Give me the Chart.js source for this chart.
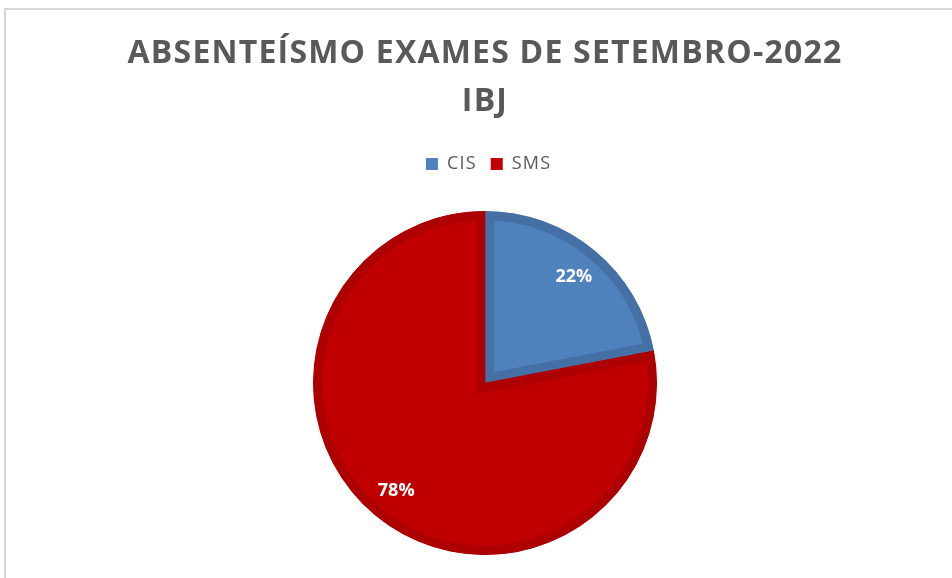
<!DOCTYPE html>
<html>
<head>
<meta charset="utf-8">
<script src="https://cdn.jsdelivr.net/npm/chart.js@4/dist/chart.umd.min.js"></script>
<style>
  body { margin: 0; background: #fff; width: 952px; height: 578px; overflow: hidden; position: relative; }
  #frame { position: absolute; left: 4px; top: 8px; width: 1000px; height: 620px; border: 2px solid #d6d6d6; box-sizing: border-box; }
  #chart-pie-absenteismo { position: absolute; left: 0; top: 0; }
</style>
</head>
<body>
<div id="frame"></div>
<canvas id="chart-pie-absenteismo" width="952" height="578"></canvas>
<script>
var categorias = ["CIS", "SMS"];
var percentuais = [22, 78];
var titulo = ["ABSENTEÍSMO EXAMES DE SETEMBRO-2022", "IBJ"];
var cores = ["#4f81bd", "#c00000"];
var coresBorda = ["#4570a6", "#ad0000"];

// data labels drawn inside the slices
var rotulosPlugin = {
  id: "rotulos",
  afterDatasetsDraw: function (chart) {
    var ctx = chart.ctx;
    var meta = chart.getDatasetMeta(0);
    ctx.save();
    ctx.font = "bold 18px 'Open Sans'";
    ctx.fillStyle = "#ffffff";
    ctx.textAlign = "center";
    ctx.textBaseline = "middle";
    meta.data.forEach(function (arc, i) {
      var mid = (arc.startAngle + arc.endAngle) / 2;
      var r = arc.outerRadius * 0.81;
      ctx.fillText(percentuais[i] + "%", arc.x + Math.cos(mid) * r, arc.y + Math.sin(mid) * r + 1);
    });
    ctx.restore();
  },
};

// extra room under the legend + wider text spacing for title/legend
var espacoLegenda = {
  id: "espacoLegenda",
  beforeInit: function (chart) {
    var fit = chart.legend.fit;
    chart.legend.fit = function () {
      fit.bind(chart.legend)();
      this.height += 28;
    };
  },
  beforeDraw: function (chart) {
    chart.ctx.letterSpacing = "1.2px";
  },
  beforeDatasetsDraw: function (chart) {
    chart.ctx.letterSpacing = "0px";
  },
};

var ctx = document.getElementById("chart-pie-absenteismo").getContext("2d");

new Chart(ctx, {
  type: "pie",
  data: {
    labels: categorias,
    datasets: [
      {
        data: percentuais,
        backgroundColor: cores,
        borderColor: coresBorda,
        borderWidth: 9,
        borderAlign: "inner",
        borderJoinStyle: "miter",
      },
    ],
  },
  options: {
    responsive: false,
    animation: false,
    layout: {
      padding: { left: 18, right: 0, top: 0, bottom: 23 },
    },
    plugins: {
      title: {
        display: true,
        text: titulo,
        color: "#595959",
        font: { family: "Open Sans", size: 32, weight: "bold", lineHeight: 1.5 },
        padding: { top: 30, bottom: 15 },
      },
      legend: {
        display: true,
        position: "top",
        labels: {
          boxWidth: 12,
          boxHeight: 12,
          color: "#595959",
          font: { family: "Open Sans", size: 18 },
          padding: 14,
          generateLabels: function (chart) {
            return categorias.map(function (nome, i) {
              return {
                text: nome,
                fillStyle: cores[i],
                strokeStyle: cores[i],
                lineWidth: 0,
                fontColor: "#595959",
                hidden: false,
                index: i,
              };
            });
          },
        },
      },
      tooltip: { enabled: false },
    },
  },
  plugins: [rotulosPlugin, espacoLegenda],
});
</script>
</body>
</html>
